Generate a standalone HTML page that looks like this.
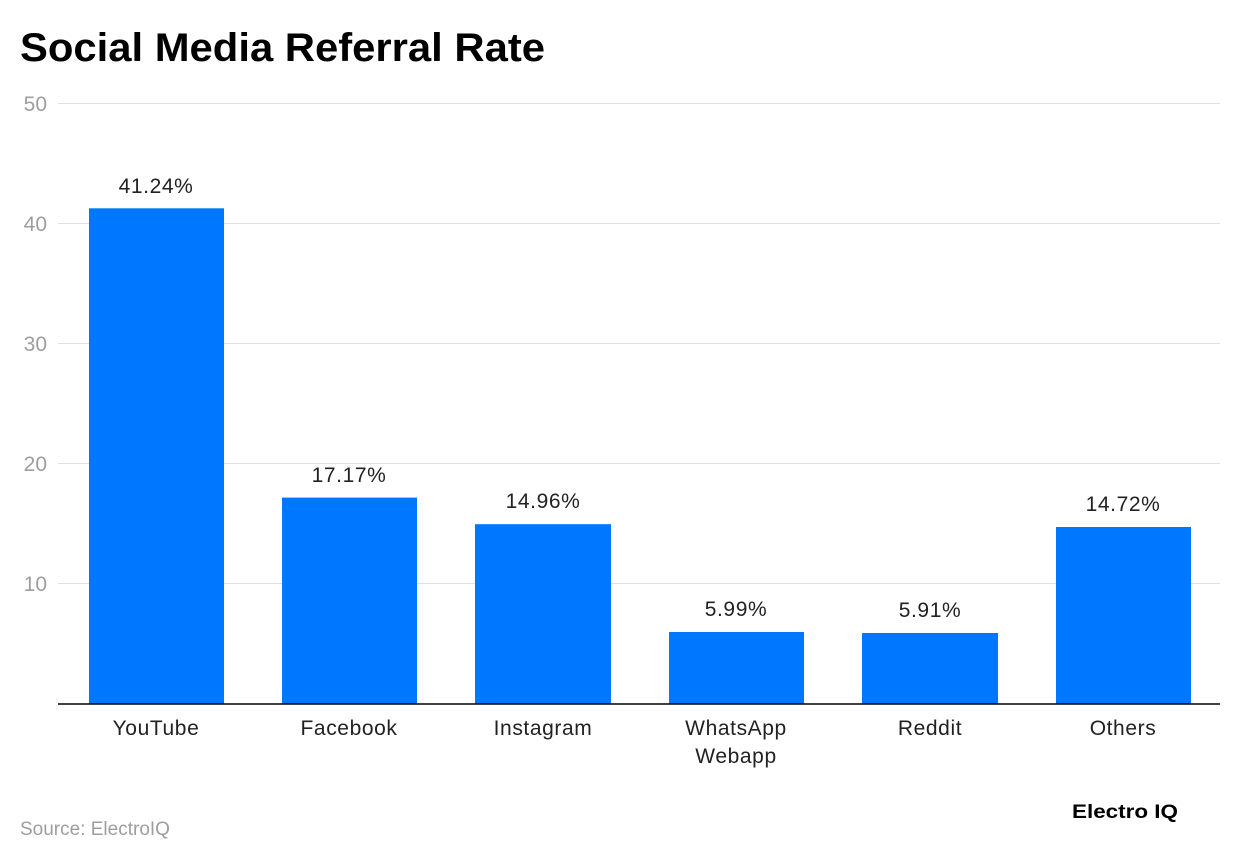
<!DOCTYPE html>
<html><head><meta charset="utf-8"><style>
body{margin:0;background:#fff;width:1240px;height:862px;overflow:hidden;font-family:"Liberation Sans",sans-serif}
</style></head><body>
<svg width="1240" height="862" xmlns="http://www.w3.org/2000/svg" font-family="Liberation Sans, sans-serif">
<text x="20" y="61" font-size="40" font-weight="bold" fill="#000" textLength="525" lengthAdjust="spacingAndGlyphs">Social Media Referral Rate</text>
<g stroke="#e0e0e0" stroke-width="1">
<line x1="58" x2="1220" y1="103.5" y2="103.5"/>
<line x1="58" x2="1220" y1="223.5" y2="223.5"/>
<line x1="58" x2="1220" y1="343.5" y2="343.5"/>
<line x1="58" x2="1220" y1="463.5" y2="463.5"/>
<line x1="58" x2="1220" y1="583.5" y2="583.5"/>
</g>
<g font-size="21" fill="#9e9e9e" text-anchor="end">
<text x="47" y="111">50</text><text x="47" y="231">40</text><text x="47" y="351">30</text><text x="47" y="471">20</text><text x="47" y="591">10</text>
</g>
<g fill="#0077ff">
<rect x="89" y="208.3" width="135" height="495.7"/>
<rect x="282" y="497.6" width="135" height="206.4"/>
<rect x="475" y="524.2" width="136" height="179.8"/>
<rect x="669" y="632" width="135" height="72"/>
<rect x="862" y="633" width="136" height="71"/>
<rect x="1056" y="527" width="135" height="177"/>
</g>
<line x1="58" x2="1220" y1="704" y2="704" stroke="#000" stroke-width="1.5"/>
<g font-size="21" fill="#222" text-anchor="middle" letter-spacing="0.6">
<text x="156" y="193">41.24%</text>
<text x="349" y="482">17.17%</text>
<text x="543" y="508">14.96%</text>
<text x="736" y="616">5.99%</text>
<text x="930" y="617">5.91%</text>
<text x="1123" y="511">14.72%</text>
<text x="156" y="735">YouTube</text>
<text x="349" y="735">Facebook</text>
<text x="543" y="735">Instagram</text>
<text x="736" y="735">WhatsApp</text>
<text x="736" y="763">Webapp</text>
<text x="930" y="735">Reddit</text>
<text x="1123" y="735">Others</text>
</g>
<text x="20" y="835" font-size="19" fill="#9e9e9e">Source: ElectroIQ</text>
<text x="1072" y="818" font-size="19" font-weight="bold" fill="#000" textLength="106" lengthAdjust="spacingAndGlyphs">Electro IQ</text>
</svg>
</body></html>
